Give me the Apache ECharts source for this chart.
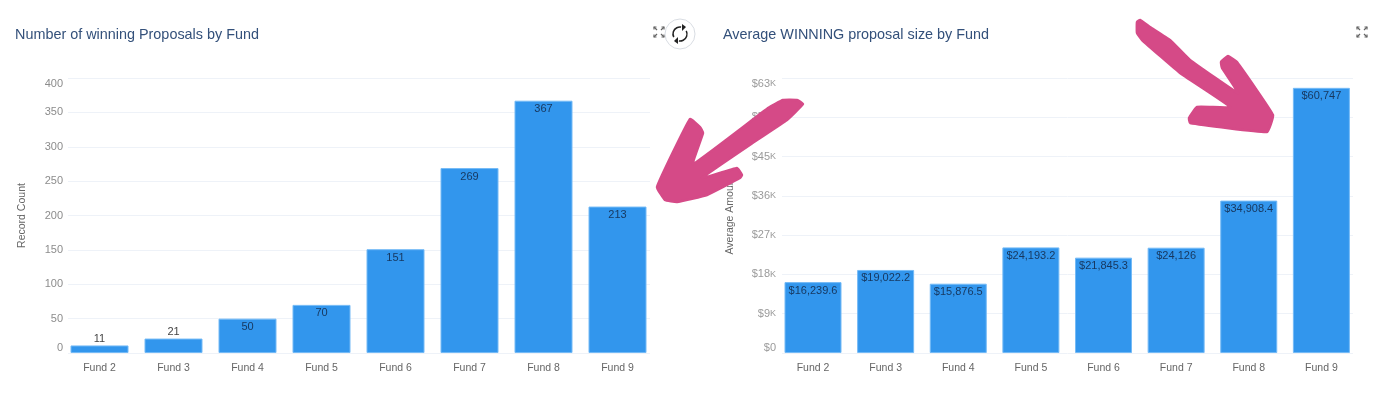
<!DOCTYPE html>
<html><head><meta charset="utf-8">
<style>html,body{margin:0;padding:0;background:#fff}#c{width:1382px;height:396px;filter:blur(0.45px)}</style>
<script src="https://cdn.jsdelivr.net/npm/echarts@6/dist/echarts.min.js"></script>
</head><body><div id="c"></div>
<script>
const funds = ['Fund 2','Fund 3','Fund 4','Fund 5','Fund 6','Fund 7','Fund 8','Fund 9'];
const winningCounts = [11,21,50,70,151,269,367,213];
const averageSizes = [16239.6,19022.2,15876.5,24193.2,21845.3,24126,34908.4,60747];
const countsOutsideLabel = [11,21];
const titleLeft = 'Number of winning Proposals by Fund';
const titleRight = 'Average WINNING proposal size by Fund';
const nameLeft = 'Record Count';
const nameRight = 'Average Amount';

const FONT = '"Liberation Sans", Arial, sans-serif';
const BAR = '#3296ed', EDGE = '#74baf6', GRID = '#eef2f8', PINK = '#d54a87';
const TOP = 78, BOTTOM = 396-353;

const money = v => '$' + v.toLocaleString('en-US',{maximumFractionDigits:1});

function lineAxes(gi, max, interval, fmt, name, gap, margin, color){
  return {
    x:{type:'category',gridIndex:gi,show:false,data:funds},
    y:{type:'value',gridIndex:gi,min:0,max,interval,
      name,nameLocation:'middle',nameGap:gap,
      nameTextStyle:{color:'#666',fontSize:10.5,fontFamily:FONT},
      axisLine:{show:false},axisTick:{show:false},
      splitLine:{lineStyle:{color:GRID,width:1}},
      axisLabel:{color,fontSize:11,fontFamily:FONT,margin,formatter:fmt,
        verticalAlignMinLabel:'bottom',verticalAlignMaxLabel:'top',
        rich:{k:{fontSize:9,color,fontFamily:FONT}}}}
  };
}
function barAxes(gi,max,interval){
  return {
    x:{type:'category',gridIndex:gi,data:funds,axisLine:{show:false},axisTick:{show:false},
       axisLabel:{color:'#666',fontSize:10.5,fontFamily:FONT,margin:10,interval:0}},
    y:{type:'value',gridIndex:gi,min:0,max,interval,show:false,splitLine:{show:false}}
  };
}
const a0 = lineAxes(0,400,50,v=>String(v),nameLeft,40,5,'#8c8c8c');
const a1 = barAxes(1,400,50);
const a2 = lineAxes(2,63000,9000,v=>v===0?'$0':'$'+(v/1000)+'{k|K}',nameRight,46,6,'#9a9a9a');
const a3 = barAxes(3,63000,9000);

function barSeries(xi,data,width,fmt,outside){
  return {type:'bar',xAxisIndex:xi,yAxisIndex:xi,barWidth:width,z:3,
    itemStyle:{color:BAR,borderColor:EDGE,borderWidth:1},
    label:{show:true,position:'insideTop',distance:3,color:'#17375e',fontSize:11,fontFamily:FONT,formatter:p=>fmt(p.value)},
    data:data.map(v=>outside.includes(v)
      ?{value:v,label:{position:'top',distance:1,color:'#444'}}:v)};
}

const rounded = (points) => ({type:'polygon',z:100,silent:true,shape:{points,smooth:0.1},
  style:{fill:PINK,stroke:PINK,lineWidth:2.5,lineJoin:'round'}});
const arrowLeft = [[803,104],[797,100],[783,100],[768,108],[693,164],[703,133],[700,127],[690,119],[657,187],[665,200],[677,202],[707,195],[740,178],[742,175],[737,168],[702,178],[757,140],[787,120]];
const arrowRight = [[1137,22],[1140,20],[1150,27],[1170,40],[1190,60],[1238,93],[1222,68],[1221,62],[1228,56],[1237,62],[1273,115],[1267,132],[1190,123],[1189,118],[1197,107],[1230,107],[1180,73],[1142,40],[1137,33]];

function expandIcon(cx,cy){
  const d=[[-1,-1],[1,-1],[-1,1],[1,1]];
  const out=[];
  d.forEach(([sx,sy])=>{
    out.push({type:'polyline',z:50,silent:true,shape:{points:[[cx+sx*2,cy+sy*2],[cx+sx*5,cy+sy*5]]},style:{stroke:'#666',lineWidth:1.2,fill:null}});
    out.push({type:'polyline',z:50,silent:true,shape:{points:[[cx+sx*5,cy+sy*2.5],[cx+sx*5,cy+sy*5],[cx+sx*2.5,cy+sy*5]]},style:{stroke:'#666',lineWidth:1.2,fill:null}});
  });
  return out;
}
const refresh = [
  {type:'circle',z:60,silent:true,shape:{cx:680,cy:34,r:15},style:{fill:'#fff',stroke:'#d9dde3',lineWidth:1}},
  {type:'arc',z:61,silent:true,shape:{cx:680,cy:34,r:7,startAngle:Math.PI*0.85,endAngle:Math.PI*1.55},style:{stroke:'#222',lineWidth:1.5,fill:null}},
  {type:'arc',z:61,silent:true,shape:{cx:680,cy:34,r:7,startAngle:-Math.PI*0.15,endAngle:Math.PI*0.55},style:{stroke:'#222',lineWidth:1.5,fill:null}},
  {type:'polygon',z:61,silent:true,shape:{points:[[682,24],[682,31],[686,27]]},style:{fill:'#222'}},
  {type:'polygon',z:61,silent:true,shape:{points:[[678,37],[678,44],[674,41]]},style:{fill:'#222'}}
];

const chart = echarts.init(document.getElementById('c'),null,{renderer:'canvas'});
const titleStyle = {color:'#33507a',fontSize:14.4,fontWeight:'normal',fontFamily:FONT};
chart.setOption({
  animation:false,backgroundColor:'#fff',
  title:[
    {text:titleLeft,left:15,top:28,padding:0,textStyle:titleStyle},
    {text:titleRight,left:723,top:28,padding:0,textStyle:titleStyle}
  ],
  grid:[
    {left:68,width:582,top:TOP,bottom:BOTTOM},
    {left:62.5,width:592,top:TOP,bottom:BOTTOM},
    {left:782,width:571,top:TOP,bottom:BOTTOM},
    {left:776.7,width:581,top:TOP,bottom:BOTTOM}
  ],
  xAxis:[a0.x,a1.x,a2.x,a3.x],
  yAxis:[a0.y,a1.y,a2.y,a3.y],
  series:[
    barSeries(1,winningCounts,58,v=>String(v),countsOutsideLabel),
    barSeries(3,averageSizes,57,money,[])
  ],
  graphic:{elements:[
    ...expandIcon(659,32),...expandIcon(1362,32),...refresh,
    rounded(arrowLeft),rounded(arrowRight)
  ]}
});
</script></body></html>
